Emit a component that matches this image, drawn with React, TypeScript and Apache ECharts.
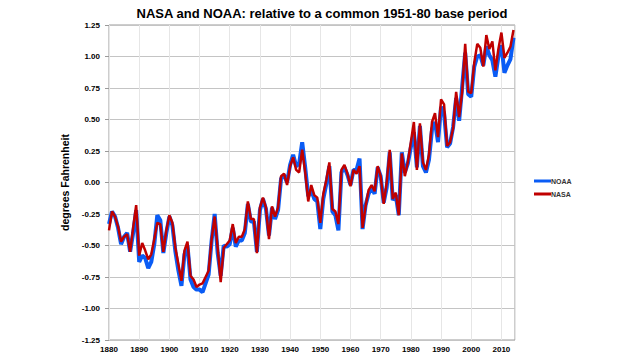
import React, { useEffect, useRef } from "react";
import * as echarts from "echarts";

const titleText = "NASA and NOAA: relative to a common 1951-80 base period";
const yAxisTitle = "degrees Fahrenheit";
const startYear = 1880;
const seriesNames = ["NOAA", "NASA"];
const seriesColors = ["#0a5cf5", "#c00000"];

const nasa = [
  -0.38, -0.23, -0.27, -0.35, -0.47, -0.43, -0.41, -0.55, -0.36, -0.18,
  -0.58, -0.48, -0.54, -0.61, -0.57, -0.45, -0.32, -0.33, -0.55, -0.38,
  -0.26, -0.32, -0.52, -0.65, -0.78, -0.54, -0.47, -0.74, -0.77, -0.83,
  -0.81, -0.80, -0.75, -0.70, -0.45, -0.27, -0.52, -0.79, -0.52, -0.49,
  -0.46, -0.33, -0.48, -0.43, -0.43, -0.37, -0.15, -0.29, -0.29, -0.56,
  -0.20, -0.12, -0.20, -0.45, -0.19, -0.27, -0.20, 0.05, 0.07, -0.02,
  0.13, 0.20, 0.10, 0.08, 0.26, 0.08, -0.15, -0.02, -0.10, -0.12,
  -0.32, -0.09, 0.02, 0.16, -0.21, -0.23, -0.33, 0.10, 0.14, 0.07,
  -0.03, 0.10, 0.07, 0.13, -0.36, -0.19, -0.06, -0.02, -0.07, 0.13,
  0.05, -0.17, 0.00, 0.26, -0.13, -0.08, -0.26, 0.23, 0.05, 0.16,
  0.32, 0.48, 0.10, 0.47, 0.16, 0.10, 0.22, 0.48, 0.55, 0.36,
  0.66, 0.62, 0.29, 0.32, 0.43, 0.72, 0.52, 0.72, 1.10, 0.72,
  0.71, 0.95, 1.10, 1.07, 0.92, 1.17, 1.06, 1.12, 0.89, 1.06,
  1.19, 0.99, 1.03, 1.08, 1.21,
];

const noaa = [
  -0.33, -0.23, -0.27, -0.36, -0.49, -0.43, -0.40, -0.55, -0.40, -0.22,
  -0.63, -0.58, -0.60, -0.68, -0.63, -0.49, -0.26, -0.30, -0.56, -0.40,
  -0.27, -0.34, -0.55, -0.70, -0.82, -0.57, -0.50, -0.77, -0.83, -0.85,
  -0.85, -0.87, -0.80, -0.73, -0.46, -0.25, -0.56, -0.74, -0.50, -0.51,
  -0.49, -0.36, -0.51, -0.46, -0.46, -0.40, -0.17, -0.31, -0.31, -0.55,
  -0.22, -0.13, -0.21, -0.42, -0.20, -0.29, -0.22, 0.03, 0.06, 0.00,
  0.14, 0.22, 0.13, 0.15, 0.32, 0.12, -0.11, -0.06, -0.13, -0.15,
  -0.37, -0.13, -0.01, 0.13, -0.23, -0.26, -0.38, 0.08, 0.12, 0.06,
  -0.02, 0.10, 0.10, 0.19, -0.37, -0.18, -0.09, -0.04, -0.09, 0.12,
  0.05, -0.16, -0.04, 0.24, -0.14, -0.10, -0.26, 0.24, 0.08, 0.15,
  0.28, 0.40, 0.12, 0.45, 0.13, 0.08, 0.18, 0.42, 0.48, 0.32,
  0.60, 0.55, 0.28, 0.31, 0.44, 0.67, 0.49, 0.76, 1.03, 0.70,
  0.68, 0.92, 1.00, 1.01, 0.93, 1.08, 1.01, 0.97, 0.84, 1.00,
  1.09, 0.87, 0.93, 0.98, 1.15,
];

const years = nasa.map((_, i) => startYear + i);

export default function App() {
  const ref = useRef<HTMLDivElement>(null);
  useEffect(() => {
    if (!ref.current) return;
    const chart = echarts.init(ref.current, undefined, { renderer: "svg" });
    const font = "'Liberation Sans', Arial, sans-serif";
    const legendGraphics: any[] = [];
    seriesNames.forEach((name, i) => {
      const cy = 181 + i * 13;
      legendGraphics.push({
        type: "line",
        shape: { x1: 534, y1: cy, x2: 551, y2: cy },
        style: { stroke: seriesColors[i], lineWidth: 3 },
        silent: true,
      });
      legendGraphics.push({
        type: "text",
        x: 551,
        y: cy,
        style: {
          text: name,
          fill: "#333",
          font: `bold 7px ${font}`,
          textVerticalAlign: "middle",
          verticalAlign: "middle",
        },
        silent: true,
      });
    });
    chart.setOption({
      animation: false,
      backgroundColor: "#ffffff",
      title: {
        text: titleText,
        left: 317,
        textAlign: "center",
        top: 2,
        textStyle: { fontFamily: font, fontSize: 13, fontWeight: "bold", color: "#000" },
      },
      graphic: legendGraphics,
      grid: {
        left: 109,
        right: 115,
        top: 25,
        bottom: 14,
        show: true,
        borderColor: "#9a9a9a",
        borderWidth: 1,
      },
      xAxis: {
        type: "value",
        min: 1880,
        max: 2014.5,
        interval: 10,
        axisLine: { show: false },
        axisTick: { show: false },
        axisLabel: {
          showMaxLabel: false,
          fontFamily: font,
          fontSize: 8,
          fontWeight: "bold",
          color: "#000",
          margin: 5,
          formatter: (v: number) => String(Math.round(v)),
        },
        splitLine: { show: true, lineStyle: { color: "#e6e6e6", width: 1 } },
      },
      yAxis: {
        type: "value",
        min: -1.25,
        max: 1.25,
        interval: 0.25,
        name: yAxisTitle,
        nameLocation: "middle",
        nameGap: 38,
        nameTextStyle: { fontFamily: font, fontSize: 10.5, fontWeight: "bold", color: "#000" },
        axisLine: { show: false },
        axisTick: { show: true, length: 4, inside: false, lineStyle: { color: "#9a9a9a" } },
        axisLabel: {
          fontFamily: font,
          fontSize: 8,
          fontWeight: "bold",
          color: "#000",
          margin: 9,
          formatter: (v: number) => v.toFixed(2),
        },
        splitLine: { show: true, lineStyle: { color: "#c4c4c4", width: 1 } },
      },
      series: [
        {
          name: seriesNames[0],
          type: "line",
          data: years.map((y, i) => [y, noaa[i]]),
          showSymbol: false,
          symbol: "none",
          lineStyle: { color: seriesColors[0], width: 4 },
          itemStyle: { color: seriesColors[0] },
          z: 2,
        },
        {
          name: seriesNames[1],
          type: "line",
          data: years.map((y, i) => [y, nasa[i]]),
          showSymbol: false,
          symbol: "none",
          lineStyle: { color: seriesColors[1], width: 2.5 },
          itemStyle: { color: seriesColors[1] },
          z: 3,
        },
      ],
    });
    return () => chart.dispose();
  }, []);
  return <div ref={ref} style={{ width: 630, height: 354, position: "absolute", left: 0, top: 0 }} />;
}
